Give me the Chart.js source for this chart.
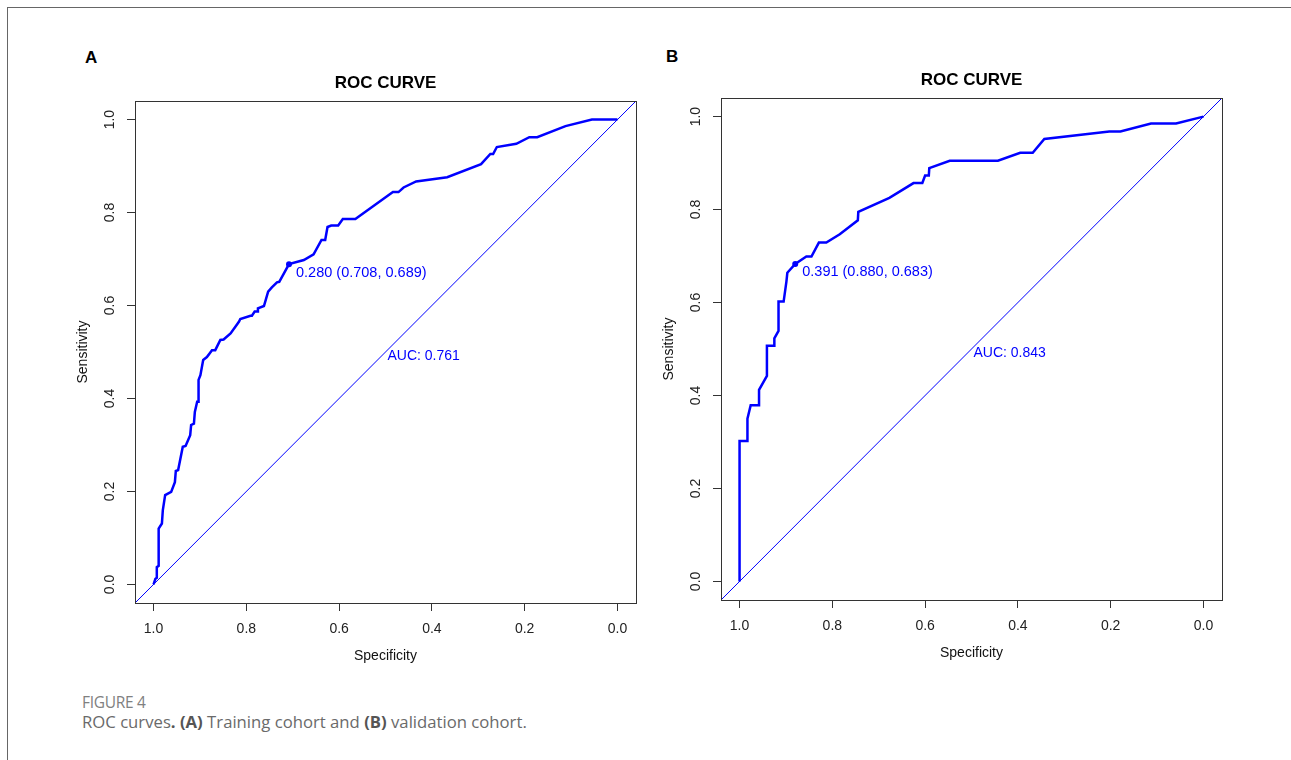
<!DOCTYPE html>
<html>
<head>
<meta charset="utf-8">
<script src="https://cdn.jsdelivr.net/npm/chart.js@4.4.0/dist/chart.umd.min.js"></script>
<style>
  html, body { margin: 0; padding: 0; background: #fff; }
  body { width: 1291px; height: 760px; position: relative; overflow: hidden; }
  .frame { position: absolute; left: 7px; top: 7px; width: 1300px; height: 800px; border: 1px solid #666; box-sizing: border-box; }
  canvas { position: absolute; }
  .letter { position: absolute; font: bold 17px "Liberation Sans", Arial, sans-serif; color: #000; }
  .fig { position: absolute; left: 82px; top: 691px; font: 15.5px "Open Sans", sans-serif; color: #808080; letter-spacing: -0.3px; }
  .cap { position: absolute; left: 82px; top: 710px; font: 16.7px "Open Sans", sans-serif; color: #6a6a6a; white-space: nowrap; }
  .cap b { color: #555; }
</style>
</head>
<body>
<div class="frame"></div>
<div class="letter" style="left:85px;top:48px;">A</div>
<div class="letter" style="left:666px;top:47px;">B</div>
<canvas id="rocA" width="600" height="620" style="left:60px;top:60px;"></canvas>
<canvas id="rocB" width="600" height="620" style="left:646px;top:57px;"></canvas>
<div class="fig">FIGURE 4</div>
<div class="cap">ROC curves<b>.</b> <b>(A)</b> Training cohort and <b>(B)</b> validation cohort.</div>

<script>
// training cohort (A): specificity / sensitivity
const specA = [1.000, 0.996, 0.993, 0.993, 0.989, 0.989, 0.982, 0.980, 0.975, 0.962, 0.954, 0.952, 0.947, 0.937, 0.931,
  0.921, 0.919, 0.913, 0.911, 0.906, 0.903, 0.903, 0.899, 0.893, 0.885, 0.874, 0.867, 0.856, 0.849, 0.834, 0.816,
  0.813, 0.791, 0.788, 0.782, 0.777, 0.775, 0.762, 0.753, 0.745, 0.734, 0.729, 0.708, 0.676, 0.655, 0.638, 0.630,
  0.625, 0.617, 0.602, 0.592, 0.565, 0.484, 0.472, 0.461, 0.434, 0.367, 0.294, 0.274, 0.268, 0.260, 0.218, 0.190,
  0.173, 0.112, 0.055, 0.000];
const sensA = [0.000, 0.012, 0.014, 0.037, 0.040, 0.120, 0.131, 0.160, 0.192, 0.199, 0.220, 0.244, 0.246, 0.296, 0.298,
  0.321, 0.343, 0.346, 0.371, 0.393, 0.393, 0.440, 0.450, 0.483, 0.489, 0.504, 0.504, 0.526, 0.527, 0.540, 0.565,
  0.571, 0.578, 0.578, 0.587, 0.587, 0.594, 0.599, 0.630, 0.639, 0.650, 0.651, 0.689, 0.698, 0.710, 0.741, 0.741,
  0.769, 0.772, 0.772, 0.786, 0.786, 0.844, 0.844, 0.854, 0.867, 0.876, 0.904, 0.926, 0.926, 0.941, 0.948, 0.962,
  0.962, 0.986, 1.000, 1.000];

// validation cohort (B)
const specB = [1.000, 1.000, 0.983, 0.983, 0.976, 0.958, 0.958, 0.941, 0.941, 0.925, 0.925, 0.916, 0.916, 0.905, 0.899,
  0.897, 0.880, 0.856, 0.845, 0.829, 0.813, 0.784, 0.745, 0.744, 0.677, 0.625, 0.606, 0.600, 0.592, 0.591, 0.547,
  0.443, 0.395, 0.368, 0.343, 0.203, 0.179, 0.113, 0.059, 0.000];
const sensB = [0.000, 0.302, 0.302, 0.350, 0.379, 0.379, 0.412, 0.442, 0.507, 0.507, 0.523, 0.539, 0.602, 0.602, 0.645,
  0.664, 0.683, 0.699, 0.699, 0.729, 0.729, 0.747, 0.777, 0.795, 0.825, 0.857, 0.857, 0.873, 0.873, 0.889, 0.905,
  0.905, 0.922, 0.922, 0.952, 0.968, 0.968, 0.985, 0.985, 1.000];

// best threshold and AUC for each panel
const thresholds = [0.280, 0.391];
const bestSpec = [0.708, 0.880];
const bestSens = [0.689, 0.683];
const aucs = [0.761, 0.843];

const tickVals = [0, 0.2, 0.4, 0.6, 0.8, 1.0];
const AX_MIN = -0.04, AX_MAX = 1.04;
const FONT = '"Liberation Sans", Arial, Helvetica, sans-serif';
const BLUE = '#0000FF';

// box, centred title and the pROC-style text labels
const rocDecor = {
  id: 'rocDecor',
  afterDatasetsDraw(chart, args, opts) {
    const {ctx, chartArea: a, scales: {x, y}} = chart;
    ctx.save();
    ctx.strokeStyle = '#333';
    ctx.lineWidth = 1;
    ctx.strokeRect(Math.round(a.left) + 0.5, Math.round(a.top) + 0.5,
      Math.round(a.right - a.left), Math.round(a.bottom - a.top));

    ctx.fillStyle = '#000';
    ctx.font = 'bold 17px ' + FONT;
    ctx.textAlign = 'center';
    ctx.textBaseline = 'middle';
    ctx.fillText(opts.title, (a.left + a.right) / 2, a.top - 18);

    ctx.fillStyle = BLUE;
    ctx.textAlign = 'left';
    ctx.font = '14.5px ' + FONT;
    const txt = opts.thr.toFixed(3) + ' (' + opts.spec.toFixed(3) + ', ' + opts.sens.toFixed(3) + ')';
    ctx.fillText(txt, x.getPixelForValue(opts.spec) + 7, y.getPixelForValue(opts.sens) + 8.5);
    ctx.font = '14px ' + FONT;
    ctx.fillText('AUC: ' + opts.auc.toFixed(3), x.getPixelForValue(0.5) + 2, y.getPixelForValue(0.5) + 4);
    ctx.restore();
  }
};

function toPoints(xs, ys) {
  return xs.map((v, i) => ({x: v, y: ys[i]}));
}

function makePanel(id, spec, sens, k) {
  const axisCommon = {
    type: 'linear',
    min: AX_MIN,
    max: AX_MAX,
    afterBuildTicks: s => { s.ticks = tickVals.map(v => ({value: v})); },
    grid: {display: true, drawOnChartArea: false, drawTicks: true, tickLength: 8, color: '#333', lineWidth: 1},
    border: {display: false}
  };
  return new Chart(document.getElementById(id), {
    type: 'scatter',
    data: {
      datasets: [
        {
          data: toPoints([AX_MAX, AX_MIN], [AX_MIN, AX_MAX]),
          showLine: true, borderColor: BLUE, borderWidth: 1, pointRadius: 0
        },
        {
          data: toPoints(spec, sens),
          showLine: true, borderColor: BLUE, borderWidth: 2.5, pointRadius: 0, tension: 0
        },
        {
          data: toPoints([bestSpec[k]], [bestSens[k]]),
          showLine: false, pointRadius: 3, backgroundColor: BLUE, borderWidth: 0
        }
      ]
    },
    options: {
      responsive: false,
      animation: false,
      devicePixelRatio: 1,
      layout: {padding: {left: 15, right: 24, top: 41, bottom: 15.6}},
      scales: {
        x: Object.assign({}, axisCommon, {
          reverse: true,
          afterFit: s => { s.height = 61.4; },
          ticks: {font: {size: 14, family: FONT}, color: '#222', padding: 10, autoSkip: false,
            maxRotation: 0, callback: v => v.toFixed(1)},
          title: {display: true, text: 'Specificity', font: {size: 14, family: FONT}, color: '#111', padding: 0}
        }),
        y: Object.assign({}, axisCommon, {
          afterFit: s => { s.width = 60; },
          ticks: {font: {size: 14, family: FONT}, color: '#222', padding: 7, autoSkip: false,
            minRotation: 90, maxRotation: 90, crossAlign: 'center', callback: v => v.toFixed(1)},
          title: {display: true, text: 'Sensitivity', font: {size: 14, family: FONT}, color: '#111', padding: 0}
        })
      },
      plugins: {
        legend: {display: false},
        tooltip: {enabled: false},
        title: {display: false},
        rocDecor: {title: 'ROC CURVE', thr: thresholds[k], spec: bestSpec[k], sens: bestSens[k], auc: aucs[k]}
      }
    },
    plugins: [rocDecor]
  });
}

const chartA = makePanel('rocA', specA, sensA, 0);
const chartB = makePanel('rocB', specB, sensB, 1);
</script>
</body>
</html>
